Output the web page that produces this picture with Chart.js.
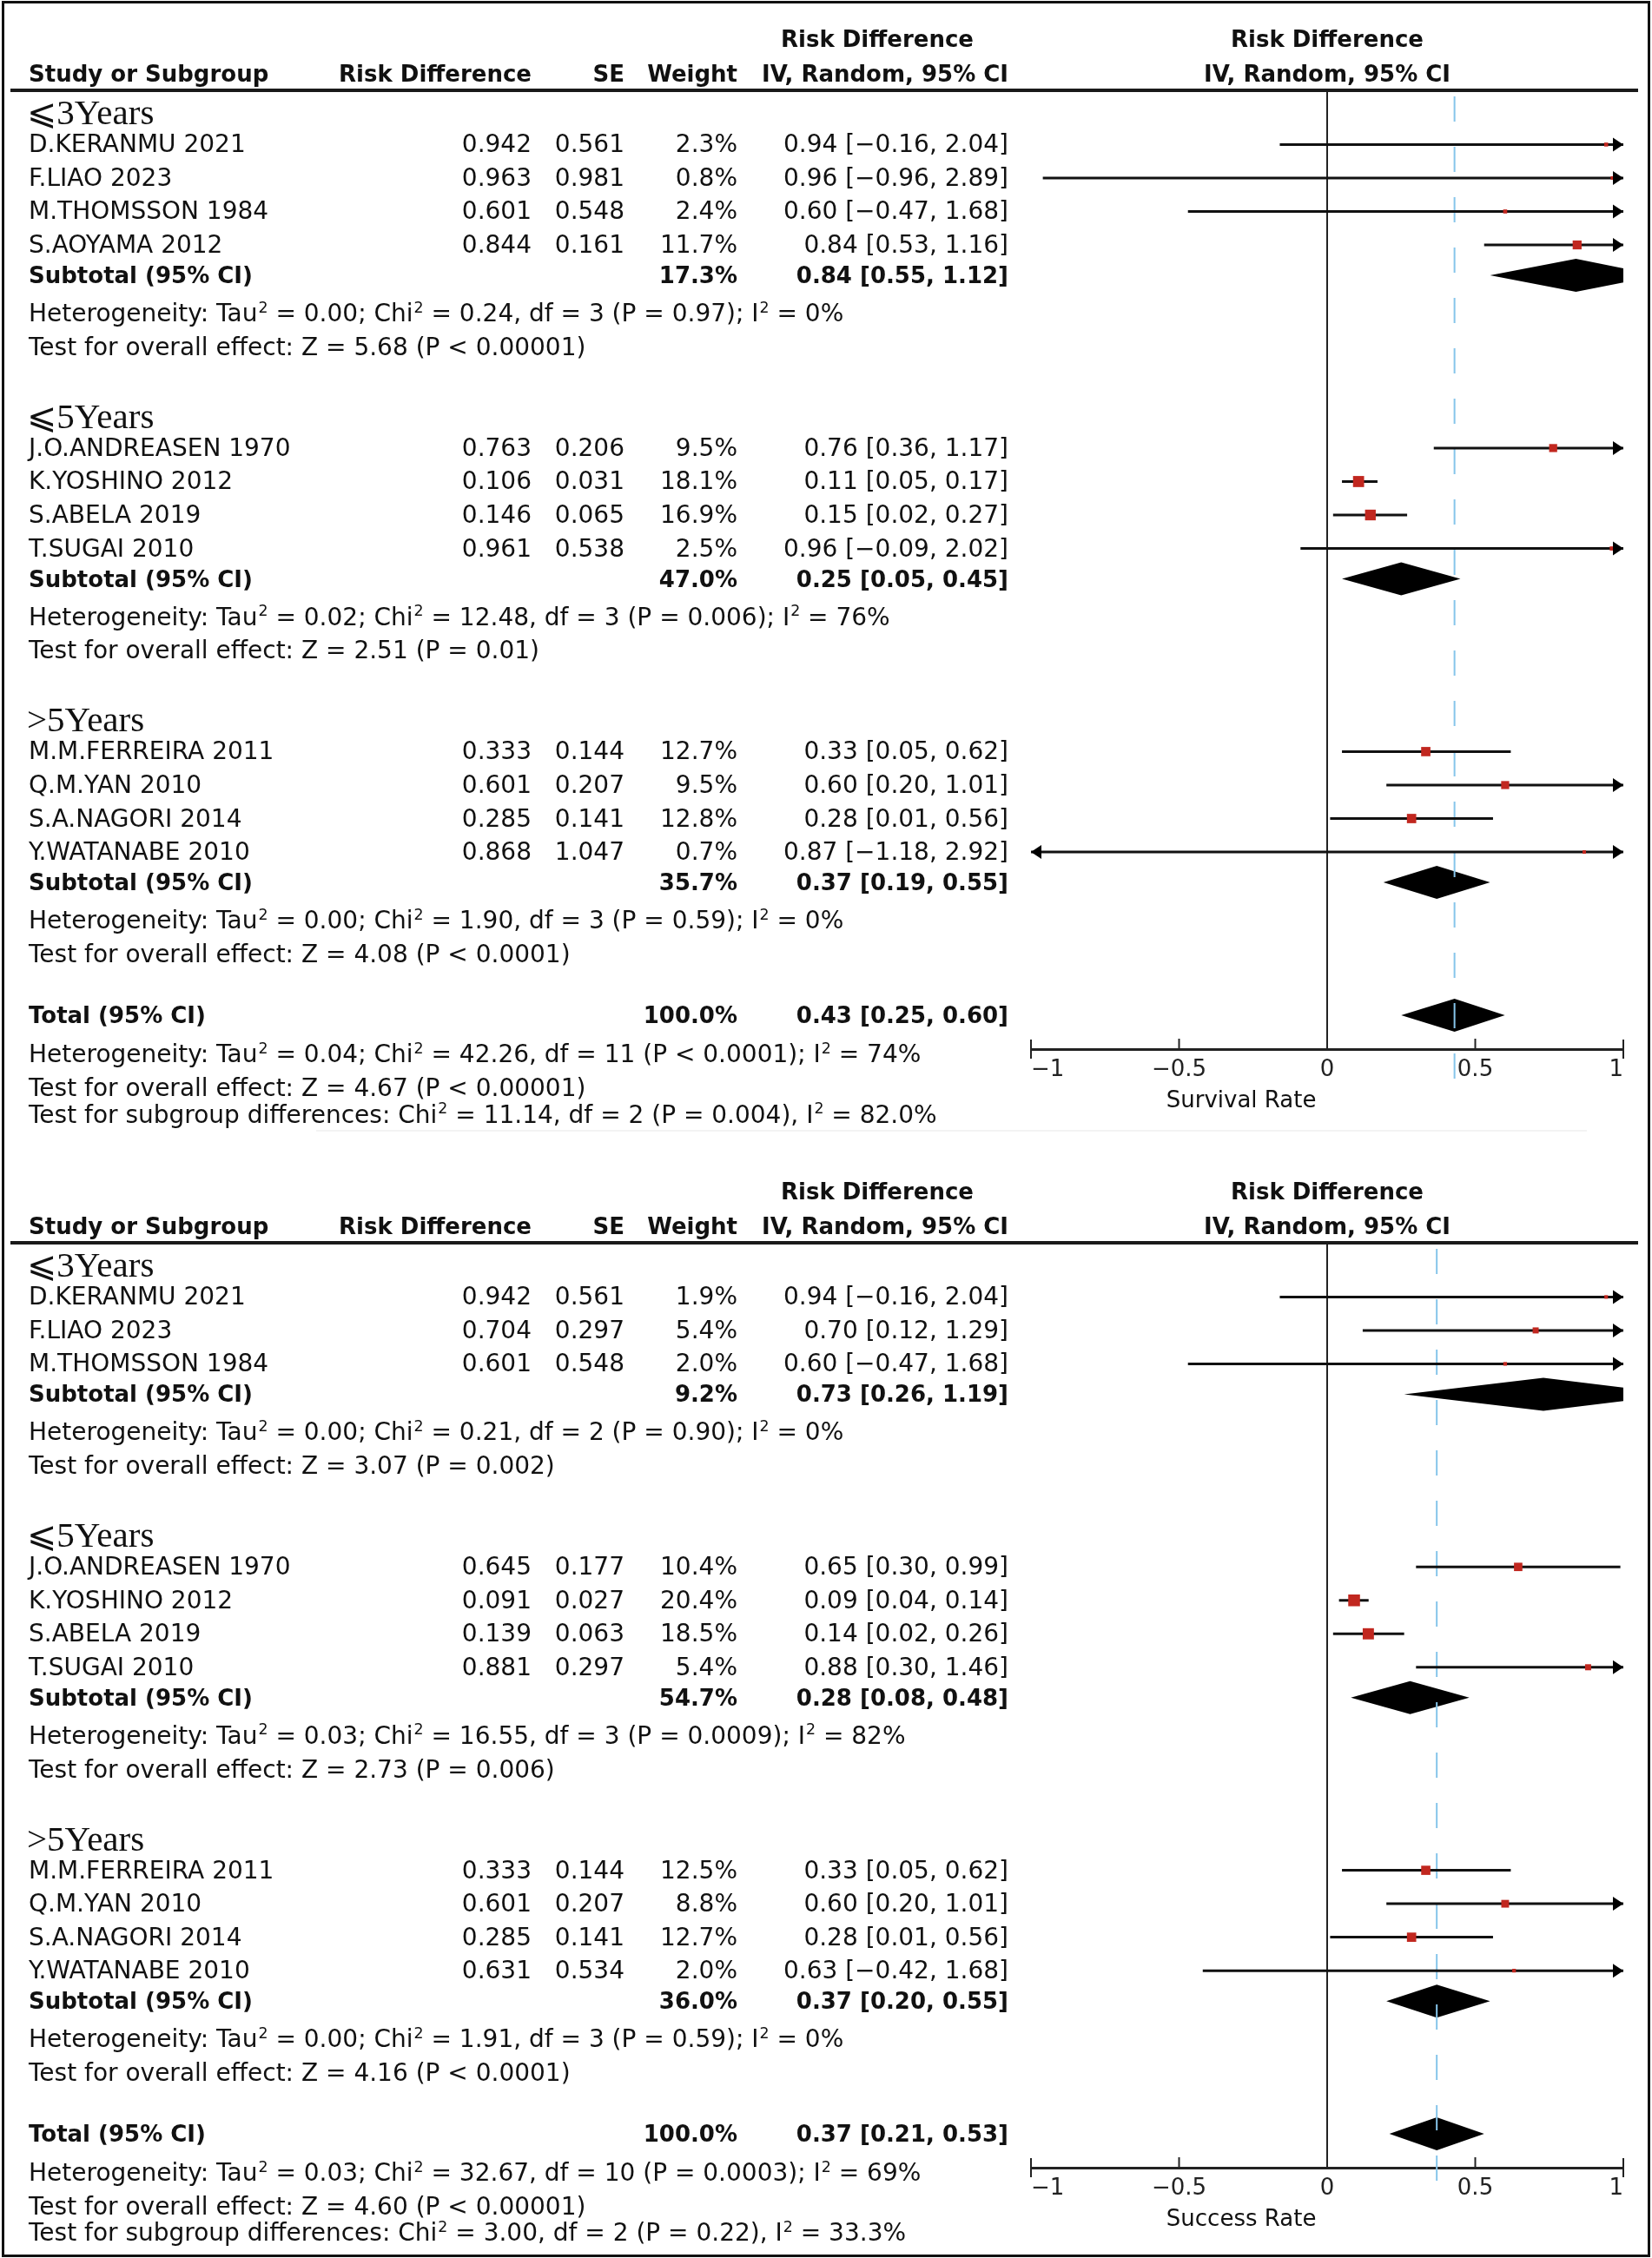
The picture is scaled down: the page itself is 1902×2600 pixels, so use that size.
<!DOCTYPE html>
<html>
<head>
<meta charset="utf-8">
<script src="https://cdn.jsdelivr.net/npm/chart.js@4.4.0/dist/chart.umd.min.js"></script>
<style>
body { margin: 0; background: #fff; }
#page { position: relative; width: 1902px; height: 2600px; background: #fff; overflow: hidden;
        font-family: "DejaVu Sans", sans-serif; color: #111; }
.frame { position: absolute; left: 2px; top: 1px; width: 1892px; height: 2592px; border: 3px solid #111; }
.rule { position: absolute; left: 12px; width: 1874px; height: 4px; background: #1a1a1a; }
.sep { position: absolute; left: 364px; width: 1463px; height: 2px; background: #f3f3f3; }
.t { position: absolute; white-space: nowrap; font-size: 28px; line-height: 1; transform: translateY(-50%); }
.b { font-weight: bold; font-size: 26px; }
.g { font-family: "Liberation Serif", "DejaVu Serif", "DejaVu Sans", serif; font-size: 41px; }
.ax { font-size: 26px; }
sup { font-size: 0.62em; line-height: 0; vertical-align: 0.6em; padding-left: 1px; }
canvas { position: absolute; left: 0; }
</style>
</head>
<body>
<div id="page"><div class="frame"></div></div>
<script>
const groupNames = ['⩽3Years', '⩽5Years', '>5Years'];
const xTickValues = [-1, -0.5, 0, 0.5, 1];

// Survival rate
const survStudy  = ['D.KERANMU 2021', 'F.LIAO 2023', 'M.THOMSSON 1984', 'S.AOYAMA 2012',
                    'J.O.ANDREASEN 1970', 'K.YOSHINO 2012', 'S.ABELA 2019', 'T.SUGAI 2010',
                    'M.M.FERREIRA 2011', 'Q.M.YAN 2010', 'S.A.NAGORI 2014', 'Y.WATANABE 2010'];
const survGroup  = [0, 0, 0, 0, 1, 1, 1, 1, 2, 2, 2, 2];
const survRD     = [0.942, 0.963, 0.601, 0.844, 0.763, 0.106, 0.146, 0.961, 0.333, 0.601, 0.285, 0.868];
const survSE     = [0.561, 0.981, 0.548, 0.161, 0.206, 0.031, 0.065, 0.538, 0.144, 0.207, 0.141, 1.047];
const survWeight = [2.3, 0.8, 2.4, 11.7, 9.5, 18.1, 16.9, 2.5, 12.7, 9.5, 12.8, 0.7];
const survEst    = [0.94, 0.96, 0.60, 0.84, 0.76, 0.11, 0.15, 0.96, 0.33, 0.60, 0.28, 0.87];
const survLow    = [-0.16, -0.96, -0.47, 0.53, 0.36, 0.05, 0.02, -0.09, 0.05, 0.20, 0.01, -1.18];
const survHigh   = [2.04, 2.89, 1.68, 1.16, 1.17, 0.17, 0.27, 2.02, 0.62, 1.01, 0.56, 2.92];
// subgroups then overall (last)
const survSubWeight = [17.3, 47.0, 35.7, 100.0];
const survSubEst  = [0.84, 0.25, 0.37, 0.43];
const survSubLow  = [0.55, 0.05, 0.19, 0.25];
const survSubHigh = [1.12, 0.45, 0.55, 0.60];
const survTau2 = [0.00, 0.02, 0.00, 0.04];
const survChi2 = [0.24, 12.48, 1.90, 42.26];
const survDf   = [3, 3, 3, 11];
const survHetP = ['= 0.97', '= 0.006', '= 0.59', '< 0.0001'];
const survI2   = [0, 76, 0, 74];
const survZ    = [5.68, 2.51, 4.08, 4.67];
const survZP   = ['< 0.00001', '= 0.01', '< 0.0001', '< 0.00001'];
const survDiff = ['11.14', '2', '= 0.004', '82.0'];

// Success rate
const succStudy  = ['D.KERANMU 2021', 'F.LIAO 2023', 'M.THOMSSON 1984',
                    'J.O.ANDREASEN 1970', 'K.YOSHINO 2012', 'S.ABELA 2019', 'T.SUGAI 2010',
                    'M.M.FERREIRA 2011', 'Q.M.YAN 2010', 'S.A.NAGORI 2014', 'Y.WATANABE 2010'];
const succGroup  = [0, 0, 0, 1, 1, 1, 1, 2, 2, 2, 2];
const succRD     = [0.942, 0.704, 0.601, 0.645, 0.091, 0.139, 0.881, 0.333, 0.601, 0.285, 0.631];
const succSE     = [0.561, 0.297, 0.548, 0.177, 0.027, 0.063, 0.297, 0.144, 0.207, 0.141, 0.534];
const succWeight = [1.9, 5.4, 2.0, 10.4, 20.4, 18.5, 5.4, 12.5, 8.8, 12.7, 2.0];
const succEst    = [0.94, 0.70, 0.60, 0.65, 0.09, 0.14, 0.88, 0.33, 0.60, 0.28, 0.63];
const succLow    = [-0.16, 0.12, -0.47, 0.30, 0.04, 0.02, 0.30, 0.05, 0.20, 0.01, -0.42];
const succHigh   = [2.04, 1.29, 1.68, 0.99, 0.14, 0.26, 1.46, 0.62, 1.01, 0.56, 1.68];
const succSubWeight = [9.2, 54.7, 36.0, 100.0];
const succSubEst  = [0.73, 0.28, 0.37, 0.37];
const succSubLow  = [0.26, 0.08, 0.20, 0.21];
const succSubHigh = [1.19, 0.48, 0.55, 0.53];
const succTau2 = [0.00, 0.03, 0.00, 0.03];
const succChi2 = [0.21, 16.55, 1.91, 32.67];
const succDf   = [2, 3, 3, 10];
const succHetP = ['= 0.90', '= 0.0009', '= 0.59', '= 0.0003'];
const succI2   = [0, 82, 0, 69];
const succZ    = [3.07, 2.73, 4.16, 4.60];
const succZP   = ['= 0.002', '= 0.006', '< 0.0001', '< 0.00001'];
const succDiff = ['3.00', '2', '= 0.22', '33.3'];

// layout
const PAGE_W = 1902;
const ROW = 38.5;        // px per row unit
const RULE = 104;        // header rule, from panel top
const XAXIS_H = 60;
const PLOT_LEFT = 1187, PLOT_RIGHT = 1869;
const COL_NAME = 33, COL_RD = 612, COL_SE = 719, COL_W = 849, COL_CI = 1161;
const DIAMOND_H = 19;
const RED = '#c1271f', BLUE = '#86c5ea';

Chart.defaults.font.family = '"DejaVu Sans", sans-serif';

const page = document.getElementById('page');

function fmt(v, d) { return v.toFixed(d).replace('-', '−'); }
function esc(s) { return s.replace('<', '&lt;'); }

function addText(html, x, y, align, cls) {
    let el = document.createElement('div');
    el.className = 't ' + (cls || '');
    el.innerHTML = html;
    el.style.top = y + 'px';
    if (align === 'right') {
        el.style.right = (PAGE_W - x) + 'px';
    } else if (align === 'center') {
        el.style.left = x + 'px';
        el.style.transform = 'translate(-50%, -50%)';
    } else {
        el.style.left = x + 'px';
    }
    page.appendChild(el);
}

// row positions in row units, measured from the header rule
function layoutRows(group) {
    let studyY = [], hdrY = [], subY = [], hetY = [], testY = [];
    let y = 1.62;
    for (let g = 0; g < groupNames.length; g++) {
        hdrY[g] = y - 0.96;
        let last = y;
        group.forEach((gg, i) => {
            if (gg === g) { studyY[i] = y; last = y; y += 1; }
        });
        subY[g] = last + 0.91;
        hetY[g] = subY[g] + 1.14;
        testY[g] = hetY[g] + 1.01;
        y = testY[g] + 3.01;
    }
    let totalY = testY[2] + 1.82;
    return {studyY, hdrY, subY, hetY, testY, totalY,
            axisY: totalY + 1.01, totHetY: totalY + 1.17, totTestY: totalY + 2.17, diffY: totalY + 2.97};
}

function drawPanel(p) {
    let L = layoutRows(p.group);
    let plotH = L.axisY * ROW;
    let canvasH = Math.ceil(RULE + plotH + XAXIS_H + 10);
    let canvas = document.createElement('canvas');
    canvas.width = PAGE_W;
    canvas.height = canvasH;
    canvas.style.top = p.top + 'px';
    canvas.style.width = PAGE_W + 'px';
    canvas.style.height = canvasH + 'px';
    page.appendChild(canvas);

    let forest = {
        id: 'forest',
        beforeDatasetsDraw(chart) {
            let {ctx, chartArea: a, scales: {x, y}} = chart;
            // diamonds for subtotals and total
            ctx.save();
            ctx.beginPath();
            ctx.rect(a.left, a.top, a.right - a.left, a.bottom - a.top);
            ctx.clip();
            ctx.fillStyle = '#000';
            p.subEst.forEach((est, g) => {
                let py = y.getPixelForValue(g < 3 ? L.subY[g] : L.totalY);
                ctx.beginPath();
                ctx.moveTo(x.getPixelForValue(p.subLow[g]), py);
                ctx.lineTo(x.getPixelForValue(est), py - DIAMOND_H);
                ctx.lineTo(x.getPixelForValue(p.subHigh[g]), py);
                ctx.lineTo(x.getPixelForValue(est), py + DIAMOND_H);
                ctx.closePath();
                ctx.fill();
            });
            ctx.restore();

            ctx.save();
            // line of no effect
            let x0 = x.getPixelForValue(0);
            ctx.strokeStyle = '#222';
            ctx.lineWidth = 2;
            ctx.beginPath();
            ctx.moveTo(x0, a.top);
            ctx.lineTo(x0, a.bottom);
            ctx.stroke();
            // overall effect
            let xt = x.getPixelForValue(p.subEst[3]);
            ctx.strokeStyle = BLUE;
            ctx.setLineDash([29, 29]);
            ctx.beginPath();
            ctx.moveTo(xt, a.top + 7);
            ctx.lineTo(xt, a.bottom + 35);
            ctx.stroke();
            ctx.restore();
        },
        afterDatasetsDraw(chart) {
            let {ctx, scales: {x, y}} = chart;
            ctx.save();
            ctx.fillStyle = '#000';
            p.rd.forEach((v, i) => {
                let py = y.getPixelForValue(L.studyY[i]);
                if (p.high[i] > 1) {
                    let tip = x.getPixelForValue(1);
                    ctx.beginPath();
                    ctx.moveTo(tip, py);
                    ctx.lineTo(tip - 12, py - 8);
                    ctx.lineTo(tip - 12, py + 8);
                    ctx.closePath();
                    ctx.fill();
                }
                if (p.low[i] < -1) {
                    let tip = x.getPixelForValue(-1);
                    ctx.beginPath();
                    ctx.moveTo(tip, py);
                    ctx.lineTo(tip + 12, py - 8);
                    ctx.lineTo(tip + 12, py + 8);
                    ctx.closePath();
                    ctx.fill();
                }
            });
            ctx.restore();
        },
        afterDraw(chart) {
            let {ctx, chartArea: a, scales: {x}} = chart;
            ctx.save();
            ctx.strokeStyle = '#222';
            ctx.lineWidth = 2;
            xTickValues.forEach(v => {
                let px = x.getPixelForValue(v);
                ctx.beginPath();
                if (Math.abs(v) === 1) {
                    ctx.moveTo(px, a.bottom - 11);
                    ctx.lineTo(px, a.bottom + 11);
                } else {
                    ctx.moveTo(px, a.bottom - 12);
                    ctx.lineTo(px, a.bottom);
                }
                ctx.stroke();
            });
            ctx.restore();
        }
    };

    let squares = {
        data: p.rd.map((v, i) => ({x: v, y: L.studyY[i]})),
        pointStyle: 'rect',
        pointRadius: p.weight.map(w => Math.max(4, 3 * Math.sqrt(w)) / Math.SQRT2),
        backgroundColor: RED,
        borderWidth: 0
    };
    let ciLines = p.low.map((lo, i) => ({
        data: [{x: lo, y: L.studyY[i]}, {x: p.high[i], y: L.studyY[i]}],
        showLine: true,
        pointRadius: 0,
        borderColor: '#111',
        borderWidth: 3,
        clip: 0
    }));

    let chart = new Chart(canvas, {
        type: 'scatter',
        data: {datasets: [squares].concat(ciLines)},
        options: {
            responsive: false,
            animation: false,
            events: [],
            layout: {padding: {left: PLOT_LEFT, right: PAGE_W - PLOT_RIGHT, top: RULE, bottom: 10}},
            plugins: {legend: {display: false}, tooltip: {enabled: false}},
            scales: {
                x: {
                    type: 'linear', min: -1, max: 1,
                    afterBuildTicks: axis => { axis.ticks = xTickValues.map(v => ({value: v})); },
                    afterFit: axis => { axis.height = XAXIS_H; },
                    ticks: {
                        align: 'inner', autoSkip: false, maxRotation: 0, padding: 9,
                        color: '#222', font: {size: 26},
                        callback: v => String(v).replace('-', '−')
                    },
                    grid: {display: false, drawTicks: false},
                    border: {display: true, color: '#222', width: 3}
                },
                y: {type: 'linear', min: 0, max: L.axisY, reverse: true, display: false}
            }
        },
        plugins: [forest]
    });

    // table text, placed on the chart's own y scale
    let ys = chart.scales.y, xs = chart.scales.x;
    let ty = v => p.top + ys.getPixelForValue(v);

    let rule = document.createElement('div');
    rule.className = 'rule';
    rule.style.top = (p.top + RULE - 2) + 'px';
    page.appendChild(rule);

    let h1 = p.top + RULE - 59, h2 = p.top + RULE - 19;
    let xc = xs.getPixelForValue(0);
    addText('Risk Difference', 1010, h1, 'center', 'b');
    addText('Risk Difference', xc, h1, 'center', 'b');
    addText('Study or Subgroup', COL_NAME, h2, 'left', 'b');
    addText('Risk Difference', COL_RD, h2, 'right', 'b');
    addText('SE', COL_SE, h2, 'right', 'b');
    addText('Weight', COL_W, h2, 'right', 'b');
    addText('IV, Random, 95% CI', COL_CI, h2, 'right', 'b');
    addText('IV, Random, 95% CI', xc, h2, 'center', 'b');

    let het = g => `Heterogeneity: Tau<sup>2</sup> = ${p.tau2[g].toFixed(2)}; Chi<sup>2</sup> = ${p.chi2[g].toFixed(2)}, df = ${p.df[g]} (P ${esc(p.hetP[g])}); I<sup>2</sup> = ${p.i2[g]}%`;
    let test = g => `Test for overall effect: Z = ${p.z[g].toFixed(2)} (P ${esc(p.zp[g])})`;
    let ci = (e, lo, hi) => `${fmt(e, 2)} [${fmt(lo, 2)}, ${fmt(hi, 2)}]`;

    for (let g = 0; g < 3; g++) {
        addText(groupNames[g].replace('>', '&gt;'), COL_NAME - 2, ty(L.hdrY[g]), 'left', 'g');
        let sy = ty(L.subY[g]);
        addText('Subtotal (95% CI)', COL_NAME, sy, 'left', 'b');
        addText(p.subWeight[g].toFixed(1) + '%', COL_W, sy, 'right', 'b');
        addText(ci(p.subEst[g], p.subLow[g], p.subHigh[g]), COL_CI, sy, 'right', 'b');
        addText(het(g), COL_NAME, ty(L.hetY[g]), 'left');
        addText(test(g), COL_NAME, ty(L.testY[g]), 'left');
    }
    p.study.forEach((name, i) => {
        let y = ty(L.studyY[i]);
        addText(name, COL_NAME, y, 'left');
        addText(p.rd[i].toFixed(3), COL_RD, y, 'right');
        addText(p.se[i].toFixed(3), COL_SE, y, 'right');
        addText(p.weight[i].toFixed(1) + '%', COL_W, y, 'right');
        addText(ci(p.est[i], p.low[i], p.high[i]), COL_CI, y, 'right');
    });
    let tyy = ty(L.totalY);
    addText('Total (95% CI)', COL_NAME, tyy, 'left', 'b');
    addText(p.subWeight[3].toFixed(1) + '%', COL_W, tyy, 'right', 'b');
    addText(ci(p.subEst[3], p.subLow[3], p.subHigh[3]), COL_CI, tyy, 'right', 'b');
    addText(het(3), COL_NAME, ty(L.totHetY), 'left');
    addText(test(3), COL_NAME, ty(L.totTestY), 'left');
    addText(`Test for subgroup differences: Chi<sup>2</sup> = ${p.diff[0]}, df = ${p.diff[1]} (P ${esc(p.diff[2])}), I<sup>2</sup> = ${p.diff[3]}%`,
            COL_NAME, ty(L.diffY), 'left');

    addText(p.title, xs.getPixelForValue(-0.29), p.top + chart.chartArea.bottom + 58, 'center', 'ax');
}

drawPanel({top: 0, title: 'Survival Rate', study: survStudy, group: survGroup, rd: survRD, se: survSE,
    weight: survWeight, est: survEst, low: survLow, high: survHigh, subWeight: survSubWeight,
    subEst: survSubEst, subLow: survSubLow, subHigh: survSubHigh, tau2: survTau2, chi2: survChi2,
    df: survDf, hetP: survHetP, i2: survI2, z: survZ, zp: survZP, diff: survDiff});

drawPanel({top: 1327, title: 'Success Rate', study: succStudy, group: succGroup, rd: succRD, se: succSE,
    weight: succWeight, est: succEst, low: succLow, high: succHigh, subWeight: succSubWeight,
    subEst: succSubEst, subLow: succSubLow, subHigh: succSubHigh, tau2: succTau2, chi2: succChi2,
    df: succDf, hetP: succHetP, i2: succI2, z: succZ, zp: succZP, diff: succDiff});

let sep = document.createElement('div');
sep.className = 'sep';
sep.style.top = '1301px';
page.appendChild(sep);
</script>
</body>
</html>
